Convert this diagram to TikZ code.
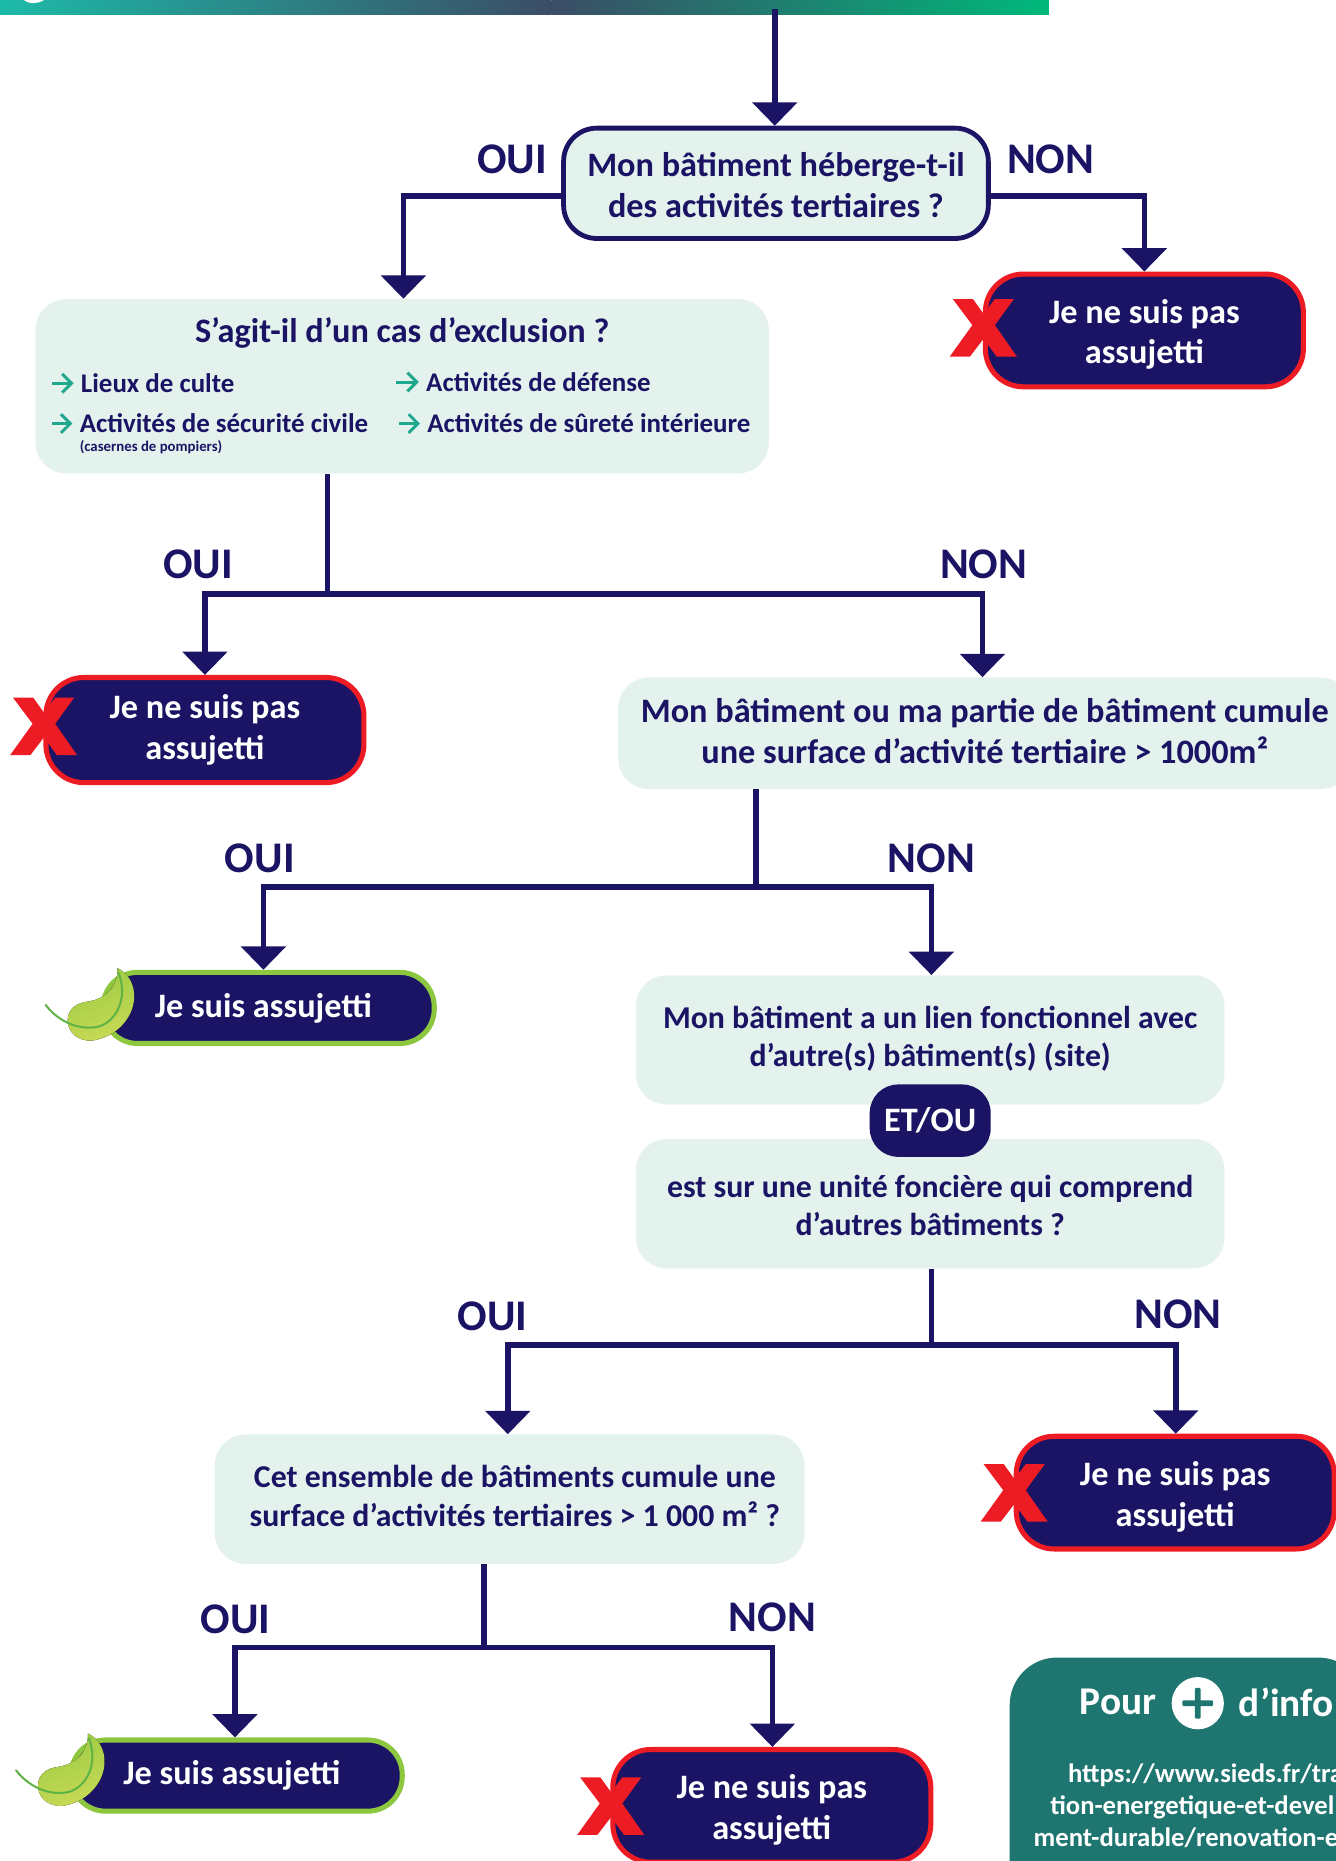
\documentclass[tikz,border=0pt]{standalone}
\usepackage{fontspec}
\setmainfont{Carlito}
\usetikzlibrary{arrows.meta}
\definecolor{navy}{HTML}{1B1464}
\definecolor{pale}{HTML}{E4F2EE}
\definecolor{redb}{HTML}{ED1C24}
\definecolor{greenb}{HTML}{8DC63F}
\definecolor{tealb}{HTML}{1F7570}
\definecolor{arrowg}{HTML}{1FA88C}
\definecolor{banda}{HTML}{1DBAA8}
\definecolor{bandb}{HTML}{3B4D66}
\definecolor{bandc}{HTML}{00B87A}
\definecolor{leafa}{HTML}{9CCB45}
\definecolor{leafb}{HTML}{C8DA55}
\definecolor{stem}{HTML}{5FB246}
\newdimen\uu \uu=0.88988pt
\newcommand\fs[2]{\fontsize{#1pt}{#2pt}\selectfont\bfseries}
\newcommand\upr{\rule{0pt}{24pt}}
\tikzset{
  x=0.88988pt,y=-0.88988pt,
  conn/.style={draw=navy,line width=4.2pt,line join=miter},
  tip/.style={conn,-{Triangle[width=33pt,length=17.5pt,sep=0pt]}},
  lab/.style={text=navy,font=\fs{32.8}{32.8},inner sep=0pt},
  qtext/.style={text=navy,align=center,font=\fs{25.7}{30.5},inner sep=0pt},
  qsmall/.style={text=navy,align=center,font=\fs{23.85}{29.0},inner sep=0pt},
  li/.style={text=navy,anchor=west,font=\fs{20.2}{20.2},inner sep=0pt},
  qfirst/.style={qtext,draw=navy,line width=3.6pt,fill=pale,rounded corners=28\uu},
  qbox/.style={qsmall,fill=pale,rounded corners=26\uu},
  nobox/.style={text=white,align=center,font=\fs{25.7}{30.5},inner sep=0pt,fill=navy,draw=redb,line width=3.8pt,rounded corners=32\uu,minimum width=268\uu,minimum height=95\uu},
  yesbox/.style={text=white,align=center,font=\fs{25.7}{30.5},inner sep=0pt,fill=navy,draw=greenb,line width=3.8pt,rounded corners=29\uu,minimum width=279\uu,minimum height=60\uu},
  bul/.style={draw=arrowg,line width=2.2pt,shorten >=6\uu,-{Straight Barb[length=7pt,width=14pt]}},
  info/.style={text=white,anchor=west,font=\fs{20.0}{20.0},inner sep=0pt},
}
\newcommand\redx[2]{\fill[redb,shift={(#1,#2)}] (-26,-24)--(-9,-24)--(0,-11.5)--(9.5,-24)--(25.5,-24)--(9.5,-2)--(28,24.5)--(11,24.5)--(0,9.5)--(-11.5,24.5)--(-28.5,24.5)--(-9.5,-2)--cycle;}
\newcommand\leafmark[2]{\begin{scope}[shift={(#1,#2)}]
 \fill[left color=leafa,right color=leafb,shading angle=20]
  (99,816) .. controls (108,820) and (114,830) .. (113,842) .. controls (112,858) and (98,874) .. (78,877) .. controls (66,878) and (57,870) .. (57,860) .. controls (57,850) and (65,845) .. (75,844) .. controls (88,842) and (100,832) .. (99,816) -- cycle;
 \draw[draw=stem,line width=1.5pt,line cap=round] (38.5,847) .. controls (50,862) and (68,869) .. (84,865) .. controls (98,860) and (108,842) .. (100,820);
\end{scope}}
\begin{document}
\begin{tikzpicture}
\useasboundingbox (0,0) rectangle (1126,1568.5);
\clip (0,0) rectangle (1126,1568.5);
% band
\shade[left color=banda,right color=bandb] (0,0) rectangle (465,12);
\shade[left color=bandb,right color=bandc] (465,0) rectangle (884,12);
\fill[white] (20,0) .. controls (24,3.5) and (32,3.5) .. (37,0) -- cycle;
% boxes
\node[qfirst,minimum width=358\uu,minimum height=93\uu] (q1) at (654,154.5) {\rule{0pt}{21pt}Mon bâtiment héberge-t-il\\des activités tertiaires ?};
\node[qbox,minimum width=618\uu,minimum height=147\uu] (excl) at (339,325.5) {};
\node[qtext] (exclt) at (339,281) {S’agit-il d’un cas d’exclusion ?};
\coordinate (ba1) at (44,323); \coordinate (ba2) at (334,322);
\coordinate (ba3) at (44,357); \coordinate (ba4) at (336,357);
\node[li] (l1) at (68,323) {Lieux de culte};
\node[li] (l2) at (359,322) {Activités de défense};
\node[li] (l3) at (67,357) {Activités de sécurité civile};
\node[li] (l4) at (360,357) {Activités de sûreté intérieure};
\node[li,font=\fs{11.1}{11.1}] (l5) at (67,376.5) {(casernes de pompiers)};
\draw[bul] (ba1) -- (l1.west); \draw[bul] (ba2) -- (l2.west);
\draw[bul] (ba3) -- (l3.west); \draw[bul] (ba4) -- (l4.west);
\node[nobox] (no1) at (964.5,278.5) {\upr Je ne suis pas\\assujetti};
\node[nobox,minimum height=88.6\uu] (no2) at (172.7,615.3) {Je ne suis pas\\assujetti};
\node[qtext,fill=pale,rounded corners=26\uu,minimum width=618\uu,minimum height=94\uu] (q3) at (830,618) {Mon bâtiment ou ma partie de bâtiment cumule\\une surface d’activité tertiaire > 1000m²\rule[-3pt]{0pt}{3pt}};
\node[yesbox] (yes1) at (226.5,849.5) {Je suis assujetti\hspace*{9\uu}};
\node[qbox,minimum width=496\uu,minimum height=109\uu] (q4a) at (784,876.5) {Mon bâtiment a un lien fonctionnel avec\\d’autre(s) bâtiment(s) (site)\rule[-5.4pt]{0pt}{5.4pt}};
\node[qbox,minimum width=496\uu,minimum height=109\uu] (q4b) at (784,1014.5) {\rule{0pt}{19.3pt}est sur une unité foncière qui comprend\\d’autres bâtiments ?};
\node[fill=navy,text=white,font=\fs{25.7}{30},rounded corners=24\uu,minimum width=102\uu,minimum height=61\uu,inner sep=0pt] (et) at (784,944.5) {ET/OU};
\node[nobox] (no3) at (990.5,1258) {\upr Je ne suis pas\\assujetti};
\node[qbox,minimum width=497\uu,minimum height=109\uu] (q5) at (429.5,1263.5) {\hspace*{9\uu}Cet ensemble de bâtiments cumule une\\\hspace*{9\uu}surface d’activités tertiaires > 1 000 m² ?\rule[-5.4pt]{0pt}{5.4pt}};
\node[yesbox] (yes2) at (199.5,1496.5) {Je suis assujetti\hspace*{8\uu}};
\node[nobox] (no4) at (650.5,1522) {\upr Je ne suis pas\\assujetti};
\redx{829}{276}\redx{37}{612}\redx{855}{1258}\redx{515}{1522}
\leafmark{0}{0}\leafmark{-25}{645}
% info panel
\node[fill=tealb,rounded corners=40\uu,minimum width=300\uu,minimum height=220\uu] (panel) at (1001,1507) {};
\node[info,font=\fs{29.5}{29.5}] (pour) at (910,1434.5) {Pour};
\node[fill=white,circle,minimum size=44\uu,inner sep=0pt] (plus) at (1009.5,1435.5) {};
\fill[tealb,rounded corners=1pt] (plus.center) ++(-13,-2.5) rectangle ++(26,5);
\fill[tealb,rounded corners=1pt] (plus.center) ++(-2.5,-13) rectangle ++(5,26);
\node[info,font=\fs{29.5}{29.5}] (dinfo) at (1044,1434.5) {d’info};
\node[info] (u1) at (900,1496) {https://www.sieds.fr/tra};
\node[info] (u2) at (885,1523) {tion-energetique-et-devel};
\node[info] (u3) at (871,1549) {ment-durable/renovation-e};
% connectors
\coordinate (start) at (653,8);
\coordinate (c1) at (340,165);
\coordinate (c2) at (964.5,165);
\draw[tip] (start) -- (start |- q1.north);
\draw[tip] (q1.west |- c1) -- (c1) -- (c1 |- excl.north);
\draw[tip] (q1.east |- c2) -- (c2) -- (no1.north);
\node[lab] (o1) at (431.5,134) {OUI};
\node[lab] (n1) at (885.5,134) {NON};
\coordinate (b2) at (276,500.5);
\draw[conn] (b2 |- excl.south) -- (b2);
\draw[tip] (b2) -- (no2.north |- b2) -- (no2.north);
\coordinate (r2) at (828,500.5);
\draw[tip] (b2) -- (r2) -- (r2 |- q3.north);
\node[lab] (o2) at (167,476) {OUI};
\node[lab] (n2) at (829,476) {NON};
\coordinate (b3) at (637,747.5);
\coordinate (r3) at (785,747.5);
\coordinate (l3c) at (222,747.5);
\draw[conn] (b3 |- q3.south) -- (b3);
\draw[tip] (b3) -- (l3c) -- (l3c |- yes1.north);
\draw[tip] (b3) -- (r3) -- (r3 |- q4a.north);
\node[lab] (o3) at (219,723) {OUI};
\node[lab] (n3) at (785,723) {NON};
\coordinate (b4) at (785,1133.5);
\coordinate (l4c) at (428,1133.5);
\coordinate (r4c) at (991,1133.5);
\draw[conn] (b4 |- q4b.south) -- (b4);
\draw[tip] (b4) -- (l4c) -- (l4c |- q5.north);
\draw[tip] (b4) -- (r4c) -- (r4c |- no3.north);
\node[lab] (o4) at (415,1109) {OUI};
\node[lab] (n4) at (993,1108) {NON};
\coordinate (b5) at (408,1388.5);
\coordinate (l5c) at (198,1388.5);
\coordinate (r5c) at (651,1388.5);
\draw[conn] (b5 |- q5.south) -- (b5);
\draw[tip] (b5) -- (l5c) -- (l5c |- yes2.north);
\draw[tip] (b5) -- (r5c) -- (r5c |- no4.north);
\node[lab] (o5) at (198.5,1365) {OUI};
\node[lab] (n5) at (651,1363) {NON};
\end{tikzpicture}
\end{document}
